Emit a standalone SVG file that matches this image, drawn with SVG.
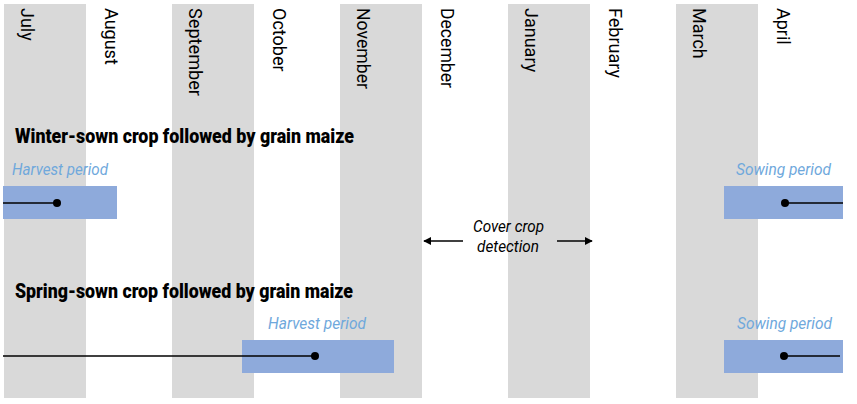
<svg xmlns="http://www.w3.org/2000/svg" width="857" height="404" viewBox="0 0 857 404">
<style>
.col{fill:#d9d9d9}
.month{font-family:Roboto,"Liberation Sans",sans-serif;font-size:18px;fill:#000}
.title{font-family:Roboto,"Liberation Sans",sans-serif;font-size:20.5px;font-weight:900;fill:#000}
.period{font-family:Roboto,"Liberation Sans",sans-serif;font-size:16.5px;font-style:italic;fill:#6fa8dc}
.note{font-family:Roboto,"Liberation Sans",sans-serif;font-size:16.5px;font-style:italic;fill:#000}
.bar{fill:#8eaadb}
.ln{stroke:#000;stroke-width:1.3;fill:none}
</style>
<defs>
<marker id="ah" viewBox="0 0 10 10" refX="9" refY="5" markerWidth="8" markerHeight="8" markerUnits="userSpaceOnUse" orient="auto">
<path d="M0,0 L10,5 L0,10 z" fill="#000"/>
</marker>
</defs>
<rect width="857" height="404" fill="#fff"/>
<g id="columns">
<rect class="col" x="4" y="4" width="82" height="394"/>
<rect class="col" x="172" y="4" width="82" height="394"/>
<rect class="col" x="340" y="4" width="82" height="394"/>
<rect class="col" x="508" y="4" width="82" height="394"/>
<rect class="col" x="676" y="4" width="82" height="394"/>
</g>
<g id="months">
<text class="month" transform="translate(21,8) rotate(90)">July</text>
<text class="month" transform="translate(105,8) rotate(90)">August</text>
<text class="month" transform="translate(189,8) rotate(90)" textLength="88" lengthAdjust="spacingAndGlyphs">September</text>
<text class="month" transform="translate(273,8) rotate(90)">October</text>
<text class="month" transform="translate(357,8) rotate(90)" textLength="81" lengthAdjust="spacingAndGlyphs">November</text>
<text class="month" transform="translate(441,8) rotate(90)" textLength="80" lengthAdjust="spacingAndGlyphs">December</text>
<text class="month" transform="translate(525,8) rotate(90)">January</text>
<text class="month" transform="translate(609,8) rotate(90)">February</text>
<text class="month" transform="translate(693,8) rotate(90)">March</text>
<text class="month" transform="translate(777,8) rotate(90)">April</text>
</g>
<g id="winter">
<text class="title" x="15" y="143" textLength="339" lengthAdjust="spacingAndGlyphs">Winter-sown crop followed by grain maize</text>
<g id="winter-harvest">
<text class="period" x="12" y="175" textLength="96" lengthAdjust="spacingAndGlyphs">Harvest period</text>
<rect class="bar" x="3" y="186" width="114" height="33"/>
</g>
<g id="winter-sowing">
<text class="period" x="736" y="175" textLength="95" lengthAdjust="spacingAndGlyphs">Sowing period</text>
<rect class="bar" x="724" y="186" width="119" height="33"/>
</g>
</g>
<g id="spring">
<text class="title" x="15" y="298" textLength="338" lengthAdjust="spacingAndGlyphs">Spring-sown crop followed by grain maize</text>
<g id="spring-harvest">
<text class="period" x="268" y="329" textLength="98" lengthAdjust="spacingAndGlyphs">Harvest period</text>
<rect class="bar" x="242" y="340" width="152" height="33"/>
</g>
<g id="spring-sowing">
<text class="period" x="737" y="329" textLength="95" lengthAdjust="spacingAndGlyphs">Sowing period</text>
<rect class="bar" x="724" y="340" width="119" height="33"/>
</g>
</g>
<g id="cover-crop">
<text class="note" x="473" y="232" textLength="71" lengthAdjust="spacingAndGlyphs">Cover crop</text>
<text class="note" x="477" y="252" textLength="62" lengthAdjust="spacingAndGlyphs">detection</text>
</g>
<g id="connectors">
<line class="ln" x1="3" y1="203" x2="57" y2="203"/>
<circle cx="57" cy="203" r="4"/>
<line class="ln" x1="785" y1="203" x2="843" y2="203"/>
<circle cx="785" cy="203" r="4"/>
<line class="ln" x1="3" y1="356" x2="315" y2="356"/>
<circle cx="315" cy="356" r="4"/>
<line class="ln" x1="784" y1="356" x2="840" y2="356"/>
<circle cx="784" cy="356" r="4"/>
<line class="ln" x1="463" y1="241" x2="424" y2="241" marker-end="url(#ah)"/>
<line class="ln" x1="557" y1="241" x2="592" y2="241" marker-end="url(#ah)"/>
</g>
</svg>
